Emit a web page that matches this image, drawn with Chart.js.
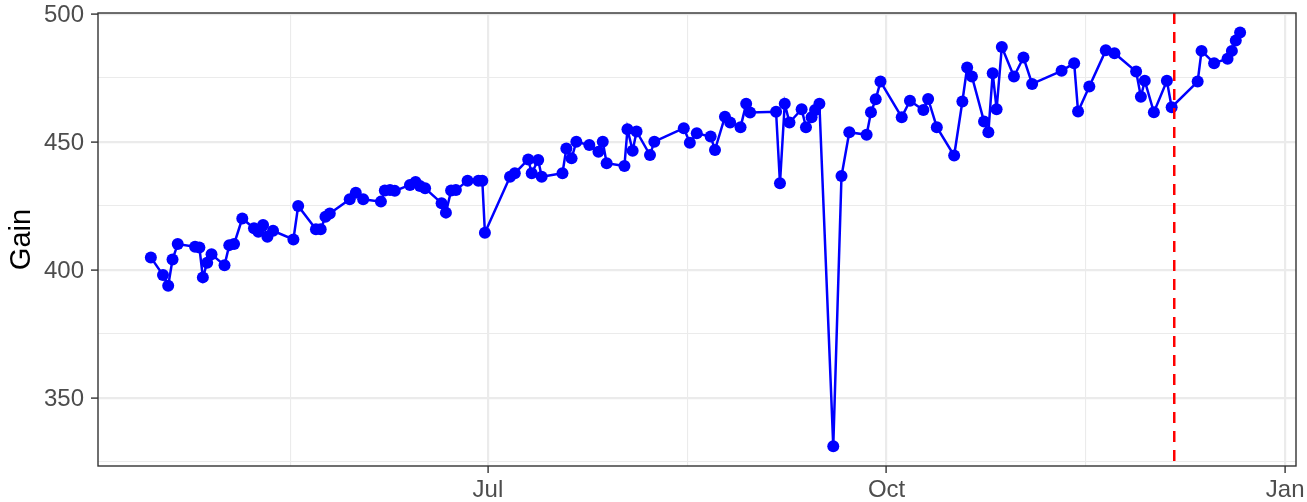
<!DOCTYPE html>
<html>
<head>
<meta charset="utf-8">
<script src="https://cdn.jsdelivr.net/npm/chart.js@4.4.1/dist/chart.umd.min.js"></script>
<style>
  html, body { margin: 0; padding: 0; background: #ffffff; }
  #wrap { width: 1307px; height: 502px; }
</style>
</head>
<body>
<div id="wrap"><canvas id="myChart" width="1307" height="502"></canvas></div>
<script>
// x = day of year (0 = 1 Jan, 365 = 1 Jan next year)
const days = [
  103.2, 106.0, 107.2, 108.2, 109.4, 113.4, 114.4, 115.2, 116.2, 117.2,
  120.2, 121.3, 122.4, 124.3, 127.0, 128.0, 129.1, 130.1, 131.4, 136.1,
  137.2, 141.3, 142.4, 143.5, 144.5, 149.1, 150.5, 152.2, 156.3, 157.2,
  158.4, 159.5, 163.0, 164.3, 165.3, 166.5, 170.3, 171.3, 172.5, 173.6,
  176.3, 178.8, 179.7, 180.3, 186.1, 187.2, 190.3, 191.1, 192.6, 193.4,
  198.2, 199.1, 200.3, 201.4, 204.4, 206.5, 207.5, 208.4, 212.5, 213.2,
  214.4, 215.3, 218.4, 219.4, 226.2, 227.6, 229.2, 232.4, 233.4, 235.7,
  236.9, 239.3, 240.6, 241.5, 247.5, 248.4, 249.5, 250.6, 253.4, 254.4,
  255.7, 256.5, 257.5, 260.7, 262.6, 264.4, 268.4, 269.4, 270.5, 271.6,
  276.5, 278.4, 281.5, 282.6, 284.6, 288.6, 290.5, 291.6, 292.7, 295.5,
  296.5, 297.5, 298.4, 299.6, 302.4, 304.6, 306.6, 313.4, 316.3, 317.2,
  319.8, 323.6, 325.6, 330.6, 331.7, 332.6, 334.7, 337.7, 338.8, 344.8,
  345.7, 348.6, 351.7, 352.7, 353.6, 354.6
];

const gains = [
  404.8, 397.9, 393.7, 404.0, 410.0, 409.0, 408.7, 397.0, 402.7, 406.0,
  401.7, 409.6, 410.0, 420.0, 416.2, 414.8, 417.5, 412.9, 415.2, 411.8,
  424.9, 415.8, 415.8, 420.7, 422.0, 427.5, 430.1, 427.5, 426.6, 430.9,
  431.1, 430.8, 433.1, 434.3, 432.7, 431.8, 426.0, 422.3, 430.9, 431.1,
  434.8, 434.8, 434.8, 414.4, 436.3, 437.7, 443.1, 437.7, 442.9, 436.3,
  437.7, 447.4, 443.5, 450.0, 448.7, 446.1, 450.0, 441.6, 440.5, 454.9,
  446.5, 454.0, 444.8, 450.0, 455.3, 449.6, 453.3, 452.0, 446.8, 459.8,
  457.5, 455.7, 464.8, 461.4, 461.7, 433.8, 464.8, 457.5, 462.7, 455.7,
  459.6, 462.4, 464.8, 331.0, 436.6, 453.7, 452.7, 461.5, 466.6, 473.5,
  459.6, 466.0, 462.4, 466.7, 455.7, 444.6, 465.7, 479.0, 475.5, 457.9,
  453.7, 476.8, 462.7, 487.0, 475.5, 482.9, 472.6, 477.7, 480.7, 461.8,
  471.6, 485.7, 484.6, 477.4, 467.6, 473.8, 461.5, 473.8, 463.5, 473.5,
  485.5, 480.7, 482.4, 485.5, 489.6, 492.7
];

const xMajorTicks = [181, 273, 365];
const xMajorLabels = ['Jul', 'Oct', 'Jan'];
const xMinorTicks = [135.5, 227, 319];
const yMajorTicks = [350, 400, 450, 500];
const yMinorTicks = [325, 375, 425, 475];

const cutoffDay = 339.4;   // red dashed line

const GRID = '#EBEBEB';
const DARK = '#333333';
const FONT = "'Liberation Sans', Arial, sans-serif";


function isMinor(list, value) {
    return list.indexOf(value) >= 0;
}

function tickObjects(major, minor) {
    let all = major.concat(minor).sort(function (a, b) { return a - b; });
    return all.map(function (v) { return { value: v }; });
}

// panel border + vertical cutoff line
const panelPlugin = {
    id: 'panel',
    afterDatasetsDraw(chart) {
        let ctx = chart.ctx;
        let area = chart.chartArea;
        let x = chart.scales.x.getPixelForValue(cutoffDay);

        ctx.save();
        ctx.strokeStyle = '#FF0000';
        ctx.lineWidth = 2.5;
        ctx.setLineDash([11, 8]);
        ctx.beginPath();
        ctx.moveTo(x, area.top);
        ctx.lineTo(x, area.bottom);
        ctx.stroke();
        ctx.restore();
    },
    afterDraw(chart) {
        let ctx = chart.ctx;
        let area = chart.chartArea;
        ctx.save();
        ctx.strokeStyle = DARK;
        ctx.lineWidth = 1.4;
        ctx.strokeRect(area.left, area.top, area.right - area.left, area.bottom - area.top);
        ctx.restore();
    }
};

function crearGrafico() {

    let ctx = document.getElementById('myChart').getContext('2d');
    let points = days.map(function (d, i) { return { x: d, y: gains[i] }; });

    new Chart(ctx, {
        type: 'line',
        data: {
            datasets: [{
                label: 'Gain',
                data: points,
                borderColor: '#0000FF',
                backgroundColor: '#0000FF',
                borderWidth: 2.5,
                pointRadius: 6,
                pointBorderWidth: 0,
                pointBackgroundColor: '#0000FF',
                tension: 0,
                clip: false
            }]
        },
        options: {
            responsive: false,
            devicePixelRatio: 1,
            animation: false,
            layout: { padding: { left: 0, right: 11, top: 13, bottom: 0 } },
            plugins: {
                legend: { display: false },
                tooltip: { enabled: false }
            },
            scales: {
                x: {
                    type: 'linear',
                    min: 91,
                    max: 367.5,
                    border: { display: false },
                    afterBuildTicks: function (scale) {
                        scale.ticks = tickObjects(xMajorTicks, xMinorTicks);
                    },
                    afterFit: function (scale) {
                        scale.height = 36;
                        scale.paddingLeft = 0;
                        scale.paddingRight = 0;
                    },
                    grid: {
                        color: GRID,
                        lineWidth: function (c) { return isMinor(xMinorTicks, c.tick.value) ? 1.1 : 2.2; },
                        tickColor: function (c) { return isMinor(xMinorTicks, c.tick.value) ? 'rgba(0,0,0,0)' : DARK; },
                        tickWidth: 1.4,
                        tickLength: 7
                    },
                    ticks: {
                        autoSkip: false,
                        maxRotation: 0,
                        padding: 3,
                        color: '#4D4D4D',
                        font: { family: FONT, size: 24 },
                        callback: function (value) {
                            let i = xMajorTicks.indexOf(value);
                            return i >= 0 ? xMajorLabels[i] : '';
                        }
                    }
                },
                y: {
                    min: 323.3,
                    max: 500.3,
                    border: { display: false },
                    afterBuildTicks: function (scale) {
                        scale.ticks = tickObjects(yMajorTicks, yMinorTicks);
                    },
                    afterFit: function (scale) {
                        scale.width = 98;
                        scale.paddingTop = 0;
                        scale.paddingBottom = 0;
                    },
                    grid: {
                        color: GRID,
                        lineWidth: function (c) { return isMinor(yMinorTicks, c.tick.value) ? 1.1 : 2.2; },
                        tickColor: function (c) { return isMinor(yMinorTicks, c.tick.value) ? 'rgba(0,0,0,0)' : DARK; },
                        tickWidth: 1.4,
                        tickLength: 7
                    },
                    ticks: {
                        autoSkip: false,
                        padding: 7,
                        labelOffset: 2,
                        color: '#4D4D4D',
                        font: { family: FONT, size: 24 },
                        callback: function (value) {
                            return yMajorTicks.indexOf(value) >= 0 ? String(value) : '';
                        }
                    },
                    title: {
                        display: true,
                        text: 'Gain',
                        color: '#000000',
                        padding: { top: 5, bottom: 0 },
                        font: { family: FONT, size: 29 }
                    }
                }
            }
        },
        plugins: [panelPlugin]
    });
}

crearGrafico();
</script>
</body>
</html>
